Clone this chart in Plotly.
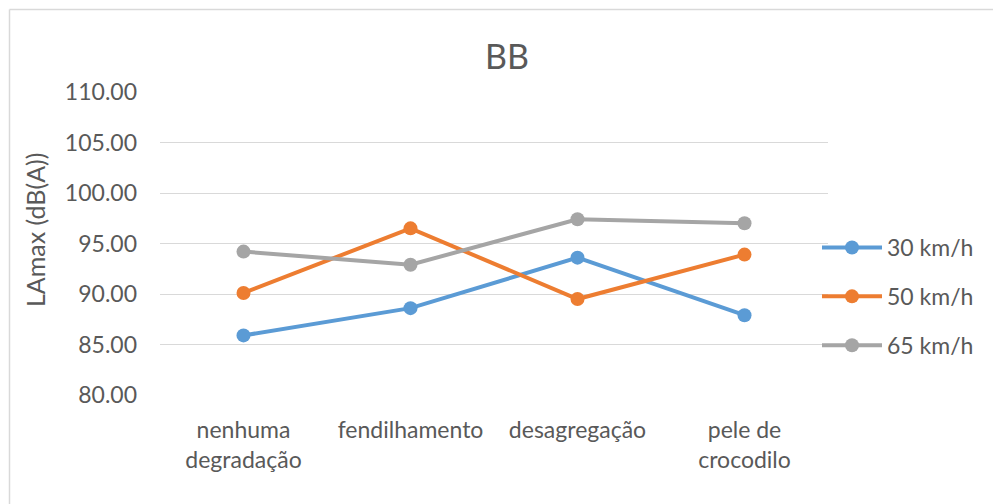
import plotly.graph_objects as go

categories = ["nenhuma<br>degradação", "fendilhamento", "desagregação", "pele de<br>crocodilo"]
series_names = ["30 km/h", "50 km/h", "65 km/h"]
v30 = [85.9, 88.6, 93.6, 87.9]
v50 = [90.1, 96.5, 89.5, 93.9]
v65 = [94.2, 92.9, 97.4, 97.0]
y_ticks = [80, 85, 90, 95, 100, 105, 110]
colors = ["#5B9BD5", "#ED7D31", "#A5A5A5"]

FONT = "Lato"
TXT = "#595959"

fig = go.Figure()
for name, vals, col in zip(series_names, [v30, v50, v65], colors):
    fig.add_trace(go.Scatter(
        x=categories, y=vals, name=name, mode="lines+markers",
        line=dict(color=col, width=4),
        marker=dict(color=col, size=14),
        legendgroup=name,
    ))

W, H = 993, 504
L, R, T, B = 160, 165, 92, 109
pw, ph = W - L - R, H - T - B

def px2x(px):
    return (px - L) / pw

def py2y(py):
    return (H - B - py) / ph

fig.update_layout(
    width=W, height=H,
    margin=dict(l=L, r=R, t=T, b=B),
    paper_bgcolor="white", plot_bgcolor="white",
    font=dict(family=FONT, color=TXT, size=23),
    title=dict(text="BB", x=507 / W, xanchor="center",
               y=1 - 57 / H, yanchor="middle",
               font=dict(size=34, color=TXT, family=FONT)),
    xaxis=dict(
        type="category", range=[-0.5, 3.5],
        showgrid=False, showline=False, zeroline=False,
        ticks="", tickfont=dict(size=23, color=TXT, family=FONT),
        ticklabelstandoff=19,
    ),
    yaxis=dict(
        range=[80, 110], tickvals=y_ticks,
        ticktext=[f"{v:.2f}" for v in y_ticks],
        showgrid=True, gridcolor="#D9D9D9", gridwidth=1.3,
        zeroline=False, showline=False, ticks="",
        tickfont=dict(size=23, color=TXT, family=FONT),
        ticklabelstandoff=22,
    ),
    legend=dict(
        x=px2x(817), y=py2y(226), xanchor="left", yanchor="top",
        font=dict(size=23, color=TXT, family=FONT),
        tracegroupgap=16, traceorder="grouped", itemwidth=60,
        bgcolor="rgba(0,0,0,0)",
    ),
    showlegend=True,
)

fig.add_annotation(
    text="LAmax (dB(A))", textangle=-90, xref="paper", yref="paper",
    x=px2x(35), y=py2y(230), xanchor="center", yanchor="middle",
    showarrow=False, font=dict(size=25, color=TXT, family=FONT),
)

# outer chart border (top and left visible)
fig.add_shape(type="line", xref="paper", yref="paper",
              x0=px2x(9.5), x1=px2x(1000), y0=py2y(9.5), y1=py2y(9.5),
              line=dict(color="#D9D9D9", width=1.5))
fig.add_shape(type="line", xref="paper", yref="paper",
              x0=px2x(9.5), x1=px2x(9.5), y0=py2y(9.5), y1=py2y(510),
              line=dict(color="#D9D9D9", width=1.5))

fig.write_html("out.html", config={"displayModeBar": False},
               post_script="document.body.style.margin='0';")
